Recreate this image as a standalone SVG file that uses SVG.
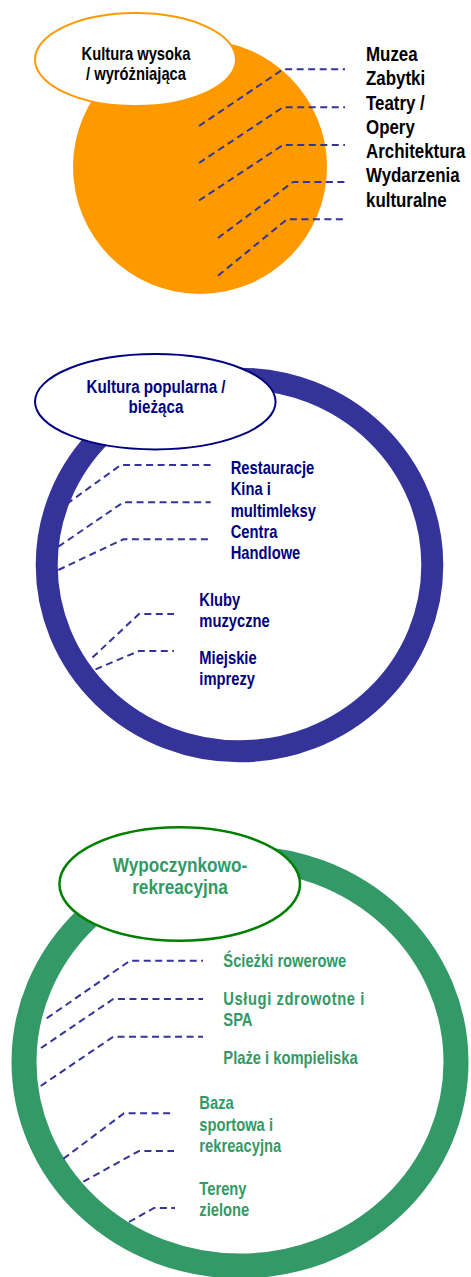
<svg xmlns="http://www.w3.org/2000/svg" width="471" height="1277" viewBox="0 0 471 1277">
<style>
text{font-family:"Liberation Sans",Arial,sans-serif;font-weight:bold}
.dash{fill:none;stroke:#333399;stroke-width:2;stroke-dasharray:7 4.5}
.t1{font-size:20px;fill:#000}
.t2{font-size:18px;fill:#000080}
.t3{font-size:18px;fill:#339966}
.h1{font-size:18px;fill:#000;text-anchor:middle}
.h2{font-size:18.5px;fill:#000080;text-anchor:middle}
.h3{font-size:21px;fill:#339966;text-anchor:middle}
</style>
<rect width="471" height="1277" fill="#fff"/>

<g id="kultura-wysoka">
<circle cx="200" cy="167" r="127" fill="#FF9900"/>
<ellipse cx="135.5" cy="59.5" rx="100.5" ry="46.5" fill="#fff" stroke="#FF9900" stroke-width="2"/>
<g transform="translate(136 0) scale(0.82 1)">
<text class="h1" x="0" y="60">Kultura wysoka</text>
<text class="h1" x="0" y="80">/ wyróżniająca</text>
</g>
</g>

<g id="kultura-popularna">
<ellipse cx="239.5" cy="565" rx="192.8" ry="186.3" fill="none" stroke="#333399" stroke-width="22"/>
<ellipse cx="155.3" cy="401.7" rx="120.3" ry="47.7" fill="#fff" stroke="#000080" stroke-width="2"/>
<g transform="translate(156 0) scale(0.82 1)">
<text class="h2" x="0" y="393.3">Kultura popularna /</text>
<text class="h2" x="0" y="413.3">bieżąca</text>
</g>
</g>

<g id="wypoczynkowo-rekreacyjna">
<ellipse cx="240" cy="1062" rx="216" ry="204" fill="none" stroke="#339966" stroke-width="25"/>
<ellipse cx="179.7" cy="884" rx="120.3" ry="56.7" fill="#fff" stroke="#008000" stroke-width="2.5"/>
<g transform="translate(180 0) scale(0.82 1)">
<text class="h3" x="0" y="871.7">Wypoczynkowo-</text>
<text class="h3" x="0" y="894">rekreacyjna</text>
</g>
</g>

<g id="connectors">
<polyline class="dash" points="199,126 283,69.3 345,69.3"/>
<polyline class="dash" points="199,163 283,107.3 345,107.3"/>
<polyline class="dash" points="199,200.5 283,145 345,145"/>
<polyline class="dash" points="218,238 293,182 345,182"/>
<polyline class="dash" points="218,275.7 287,219.3 345,219.3"/>

<polyline class="dash" points="66.7,504 120.7,465 210.7,465"/>
<polyline class="dash" points="58.3,546.7 123.3,502.3 210.7,502.3"/>
<polyline class="dash" points="58.3,570 123.3,539.3 210.7,539.3"/>
<polyline class="dash" points="92.5,657.5 139,614 174,614"/>
<polyline class="dash" points="95.5,669.3 139,651 174,651"/>

<polyline class="dash" points="46.7,1018.3 130,960.7 203,960.7"/>
<polyline class="dash" points="41,1048 113.3,999 203,999"/>
<polyline class="dash" points="40.7,1086 113.3,1036.7 203,1036.7"/>
<polyline class="dash" points="63.3,1158.8 124,1113.3 174,1113.3"/>
<polyline class="dash" points="83.3,1181.7 139,1151 174,1151"/>
<polyline class="dash" points="129,1222 154,1208 175,1208"/>
</g>

<g id="labels-wysoka" transform="translate(366 0) scale(0.845 1)">
<text class="t1" x="0" y="61">Muzea</text>
<text class="t1" x="0" y="85.3">Zabytki</text>
<text class="t1" x="0" y="109.6">Teatry /</text>
<text class="t1" x="0" y="133.9">Opery</text>
<text class="t1" x="0" y="158.2">Architektura</text>
<text class="t1" x="0" y="182.5">Wydarzenia</text>
<text class="t1" x="0" y="206.8">kulturalne</text>
</g>

<g id="labels-popularna">
<g transform="translate(230.7 0) scale(0.82 1)">
<text class="t2" x="0" y="474">Restauracje</text>
<text class="t2" x="0" y="495.3">Kina i</text>
<text class="t2" x="0" y="516.7">multimleksy</text>
<text class="t2" x="0" y="538">Centra</text>
<text class="t2" x="0" y="559.3">Handlowe</text>
</g>
<g transform="translate(199.3 0) scale(0.82 1)">
<text class="t2" x="0" y="606">Kluby</text>
<text class="t2" x="0" y="626.7">muzyczne</text>
<text class="t2" x="0" y="664">Miejskie</text>
<text class="t2" x="0" y="685">imprezy</text>
</g>
</g>

<g id="labels-wypoczynkowa">
<g transform="translate(223.3 0) scale(0.82 1)">
<text class="t3" x="0" y="966.7">Ścieżki rowerowe</text>
<text class="t3" x="0" y="1005" textLength="172" lengthAdjust="spacing">Usługi zdrowotne i</text>
<text class="t3" x="0" y="1025.7">SPA</text>
<text class="t3" x="0" y="1064.3">Plaże i kompieliska</text>
</g>
<g transform="translate(199.3 0) scale(0.82 1)">
<text class="t3" x="0" y="1109">Baza</text>
<text class="t3" x="0" y="1130.7">sportowa i</text>
<text class="t3" x="0" y="1151.7">rekreacyjna</text>
<text class="t3" x="0" y="1195">Tereny</text>
<text class="t3" x="0" y="1215.7">zielone</text>
</g>
</g>
</svg>
